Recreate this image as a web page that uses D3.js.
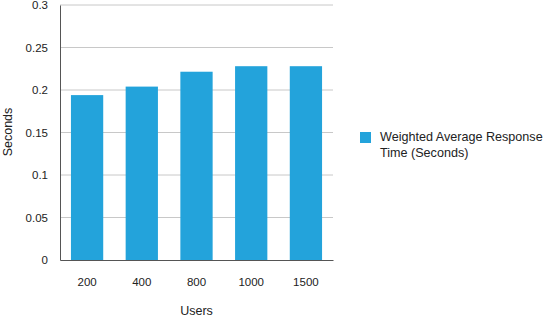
<!DOCTYPE html>
<html>
<head>
<meta charset="utf-8">
<script src="https://cdn.jsdelivr.net/npm/d3@7"></script>
<style>
  body { margin: 0; background: #fff; }
  svg { font-family: "Liberation Sans", Arial, sans-serif; }
</style>
</head>
<body>
<svg width="547" height="319"></svg>
<script>
// chart data
const users = ["200", "400", "800", "1000", "1500"];
const responseTimes = [0.194, 0.204, 0.2215, 0.228, 0.228];
const yTicks = [0, 0.05, 0.1, 0.15, 0.2, 0.25, 0.3];
const seriesName = ["Weighted Average Response", "Time (Seconds)"];

const svg = d3.select("svg");
const plotLeft = 60, plotRight = 333, plotTop = 5, plotBottom = 260;
const barColor = "#23a3db";

let xScale = d3.scaleBand()
    .domain(users)
    .range([plotLeft, plotRight])
    .paddingInner(0.41)
    .paddingOuter(0.2);

let yScale = d3.scaleLinear()
    .domain([0, 0.3])
    .range([plotBottom, plotTop]);

// horizontal grid
svg.append("g")
    .selectAll("line")
    .data(yTicks.slice(1))
    .enter()
    .append("line")
    .attr("x1", plotLeft)
    .attr("x2", plotRight)
    .attr("y1", d => yScale(d))
    .attr("y2", d => yScale(d))
    .attr("stroke", "#c8c8c8")
    .attr("stroke-width", 1);

// y axis
let yAxis = svg.append("g")
    .attr("transform", `translate(${plotLeft},0)`)
    .call(d3.axisLeft(yScale).tickValues(yTicks).tickSize(0).tickPadding(12).tickFormat(d => d3.format("")(d)));
yAxis.select(".domain").attr("stroke", "#555");
yAxis.selectAll("text").attr("font-size", 11.5).attr("fill", "#222").attr("font-family", "Liberation Sans, Arial, sans-serif");

// bars
svg.append("g")
    .selectAll("rect")
    .data(responseTimes)
    .enter()
    .append("rect")
    .attr("x", (d, i) => xScale(users[i]))
    .attr("width", xScale.bandwidth())
    .attr("y", d => yScale(d))
    .attr("height", d => plotBottom - yScale(d))
    .attr("fill", barColor);

// x axis
let xAxis = svg.append("g")
    .attr("transform", `translate(0,${plotBottom})`)
    .call(d3.axisBottom(xScale).tickSize(0).tickPadding(18));
xAxis.select(".domain").attr("stroke", "#555");
xAxis.selectAll("text").attr("font-size", 11.5).attr("fill", "#222").attr("font-family", "Liberation Sans, Arial, sans-serif");

// axis titles
svg.append("text")
    .attr("x", (plotLeft + plotRight) / 2)
    .attr("y", 315)
    .attr("text-anchor", "middle")
    .attr("font-size", 12.5)
    .attr("fill", "#222")
    .text("Users");

svg.append("text")
    .attr("transform", "rotate(-90)")
    .attr("x", -132)
    .attr("y", 12)
    .attr("text-anchor", "middle")
    .attr("font-size", 12.5)
    .attr("fill", "#222")
    .text("Seconds");

// legend
svg.append("rect")
    .attr("x", 360)
    .attr("y", 132)
    .attr("width", 11)
    .attr("height", 11)
    .attr("fill", barColor);

svg.append("text")
    .attr("x", 380)
    .attr("y", 141)
    .attr("font-size", 12.6)
    .attr("fill", "#222")
    .selectAll("tspan")
    .data(seriesName)
    .enter()
    .append("tspan")
    .attr("x", 380)
    .attr("dy", (d, i) => i === 0 ? 0 : 16)
    .text(d => d);
</script>
</body>
</html>
